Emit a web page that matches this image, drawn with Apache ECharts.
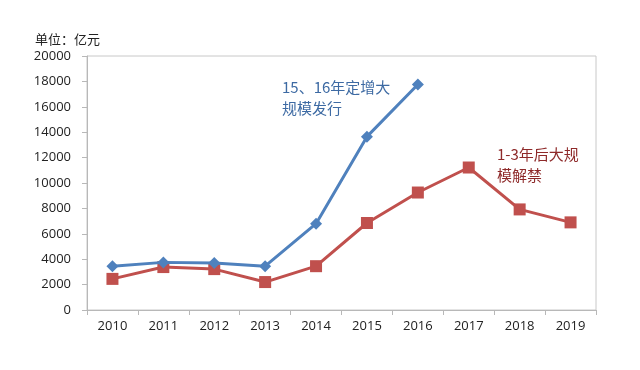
<!DOCTYPE html>
<html>
<head>
<meta charset="utf-8">
<script src="https://cdn.jsdelivr.net/npm/echarts@6/dist/echarts.min.js"></script>
<style>
html,body{margin:0;padding:0;background:#fff;}
#main{width:640px;height:370px;}
</style>
</head>
<body>
<div id="main"></div>
<script>
const years = ['2010','2011','2012','2013','2014','2015','2016','2017','2018','2019'];
const issuance = [3450, 3750, 3700, 3450, 6800, 13650, 17750, null, null, null];
const unlock = [2450, 3380, 3220, 2200, 3450, 6850, 9250, 11220, 7920, 6900];
const yTicks = {min: 0, max: 20000, interval: 2000};
const unitLabel = '单位：亿元';
const noteBlue = '15、16年定增大\n规模发行';
const noteRed = '1-3年后大规\n模解禁';

const chart = echarts.init(document.getElementById('main'), null, {renderer: 'canvas'});
const font = '"Noto Sans CJK SC", "Liberation Sans", sans-serif';
const numFont = '"Open Sans", "Noto Sans", sans-serif';
chart.setOption({
  backgroundColor: '#ffffff',
  animation: false,
  textStyle: {fontFamily: font},
  grid: {left: 87, right: 44, top: 56, bottom: 60, show: true, borderColor: '#c8c8c8', borderWidth: 1, backgroundColor: 'transparent'},
  xAxis: {
    type: 'category',
    data: years,
    boundaryGap: true,
    axisLine: {lineStyle: {color: '#b8b8b8', width: 1}},
    axisTick: {show: true, alignWithLabel: false, length: 5, lineStyle: {color: '#b8b8b8'}},
    axisLabel: {color: '#222', fontSize: 13, margin: 10, fontFamily: numFont}
  },
  yAxis: {
    type: 'value',
    min: yTicks.min, max: yTicks.max, interval: yTicks.interval,
    axisLine: {show: true, lineStyle: {color: '#b8b8b8', width: 1}},
    axisTick: {show: true, length: 5, lineStyle: {color: '#b8b8b8'}},
    splitLine: {show: false},
    axisLabel: {color: '#222', fontSize: 13, margin: 16, fontFamily: numFont, formatter: v => String(v)}
  },
  graphic: [
    {type: 'text', left: 35, top: 33, style: {text: unitLabel, fontSize: 13, fill: '#222', fontFamily: font}},
    {type: 'text', left: 282, top: 77, style: {text: noteBlue, fontSize: 15, lineHeight: 21, fill: '#3d6aa3', fontFamily: font}},
    {type: 'text', left: 497, top: 144, style: {text: noteRed, fontSize: 15, lineHeight: 21, fill: '#8e2a2a', fontFamily: font}}
  ],
  series: [
    {
      name: '定增发行', type: 'line', data: issuance,
      symbol: 'diamond', symbolSize: 12,
      lineStyle: {color: '#4f81bd', width: 3},
      itemStyle: {color: '#4f81bd'},
      connectNulls: false, z: 3
    },
    {
      name: '解禁', type: 'line', data: unlock,
      symbol: 'rect', symbolSize: 12,
      lineStyle: {color: '#c0504d', width: 3},
      itemStyle: {color: '#c0504d'},
      z: 2
    }
  ]
});
</script>
</body>
</html>
